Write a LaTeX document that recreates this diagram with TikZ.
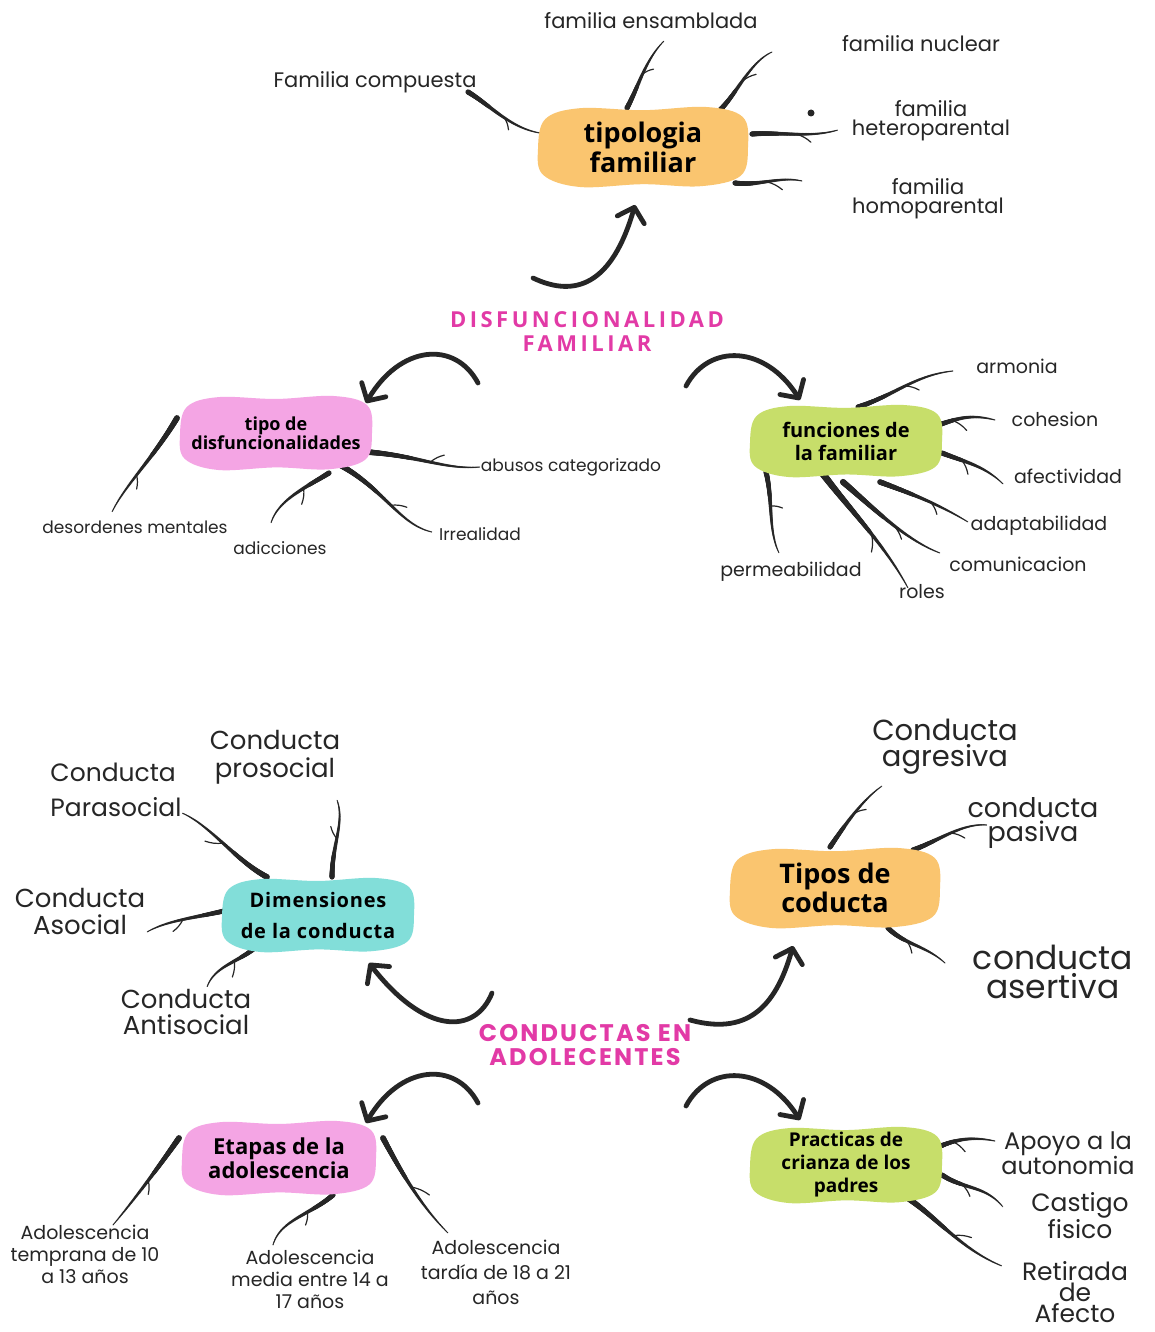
\documentclass[tikz,border=0pt]{standalone}
\usepackage{fontspec}
\setmainfont{Poppins}
\newfontfamily\osans{Open Sans}
\newfontfamily\osanssp{Open Sans}[LetterSpace=4]
\newfontfamily\titleA{Open Sans}[LetterSpace=16]
\newfontfamily\titleB{Poppins}[LetterSpace=9]
\usetikzlibrary{arrows.meta,decorations.markings,calc}
\definecolor{ink}{HTML}{262626}
\definecolor{tpink}{HTML}{E23AA6}
\definecolor{borange}{HTML}{FAC56F}
\definecolor{bpink}{HTML}{F4A5E4}
\definecolor{bgreen}{HTML}{C7DE6A}
\definecolor{bcyan}{HTML}{82DED9}
\newcommand\fs[2]{\fontsize{#1}{#2}\selectfont}
\pgfdeclarelayer{paper}
\pgfdeclarelayer{lines}
\pgfdeclarelayer{blobs}
\pgfsetlayers{paper,lines,blobs,main}
\tikzset{
  lab/.style={align=center, inner sep=0pt, text=ink},
  btext/.style={align=center, inner sep=0pt, text=black},
  twig/.style={draw=ink, line width=1.2pt, line cap=round},
  bigarr/.style={draw=ink, line width=4.8pt, line cap=round,
    -{Straight Barb[length=13pt,width=28pt,round]}},
  taper/.style={postaction={decorate,decoration={markings,
    mark=between positions 0 and 1 step 0.6pt with {%
      \pgfmathsetmacro\tpr{0.6+(#1-0.6)*(1-\pgfkeysvalueof{/pgf/decoration/mark info/distance from start}/\pgfdecoratedpathlength)}%
      \fill[ink] (0,0) circle[radius=\tpr pt];}}}},
}
% blob: node, half width, half height, colour
\newcommand\blobfill[4]{%
  \begin{pgfonlayer}{blobs}
  \begin{scope}[shift={(#1)}]
  \fill[#4] plot[smooth cycle, tension=0.6] coordinates {
    ({-#2},{0.05*#3}) ({-0.93*#2},{-0.7*#3}) ({-0.6*#2},{-0.97*#3})
    ({0},{-0.92*#3}) ({0.6*#2},{-1.0*#3}) ({0.95*#2},{-0.75*#3})
    ({#2},{0}) ({0.93*#2},{0.72*#3}) ({0.55*#2},{0.98*#3})
    ({0},{0.93*#3}) ({-0.6*#2},{1.0*#3}) ({-0.95*#2},{0.7*#3})};
  \end{scope}
  \end{pgfonlayer}}
% branch: name, width, start, c1, c2, end, twig pos, twig vector
\newcommand\branch[8]{%
  \begin{pgfonlayer}{lines}
  \path[taper=#2] #3 .. controls +#4 and +#5 .. #6 coordinate[pos=#7] (#1);
  \draw[twig] (#1) to[bend left=12] ++#8;
  \end{pgfonlayer}}
\begin{document}
\begin{tikzpicture}[x=1pt,y=-1pt]
\useasboundingbox (0,0) rectangle (1155,1332);
\begin{pgfonlayer}{paper}
\fill[white] (0,0) rectangle (1155,1332);
\end{pgfonlayer}

% ---------- titles and blobs
\node[text=tpink, align=center, font=\titleA\bfseries\fs{22}{24}] (t1) at (587,332) {DISFUNCIONALIDAD\\FAMILIAR};
\node[text=tpink, align=center, font=\titleB\bfseries\fs{24}{24}] (t2) at (585,1045) {CONDUCTAS EN\\ADOLECENTES};

\node[btext, font=\osans\bfseries\fs{27}{30}] (tip) at (643,147) {tipologia\\familiar};
\blobfill{tip}{105}{40}{borange}
\node[btext, font=\osans\bfseries\fs{18}{19}] (tdis) at (276,433) {tipo de\\disfuncionalidades};
\blobfill{tdis}{96}{37}{bpink}
\node[btext, font=\osans\bfseries\fs{20}{23}] (func) at (846,441) {funciones de\\la familiar};
\blobfill{func}{96}{36}{bgreen}
\node[btext, font=\osanssp\bfseries\fs{20}{31}] (dim) at (318,915) {Dimensiones\\de la conducta};
\blobfill{dim}{96}{37}{bcyan}
\node[btext, font=\osans\bfseries\fs{27}{29}] (tipc) at (835,888) {Tipos de\\coducta};
\blobfill{tipc}{105}{40}{borange}
\node[btext, font=\osans\bfseries\fs{22}{24}] (etap) at (279,1158) {Etapas de la\\adolescencia};
\blobfill{etap}{97}{37}{bpink}
\node[btext, font=\osans\bfseries\fs{19}{23}] (prac) at (846,1165) {Practicas de\\crianza de los\\padres};
\blobfill{prac}{96}{38}{bgreen}

% ---------- labels
\node[lab, font=\fs{21}{18}] (ens) at (651,21) {familia ensamblada};
\node[lab, font=\fs{21}{18}] (nuc) at (921,44) {familia nuclear};
\node[lab, font=\fs{21}{18}] (comp) at (375,82) {Familia compuesta};
\node[lab, font=\fs{21}{19}] (het) at (931,121) {familia\\heteroparental};
\node[lab, font=\fs{21}{19}] (hom) at (928,199) {familia\\homoparental};
\node[circle, fill=ink, inner sep=0pt, minimum size=7pt] (dot) at (811,113) {};

\node[lab, font=\fs{17}{18}] (des) at (135,527) {desordenes mentales};
\node[lab, font=\fs{17}{18}] (abu) at (571,467) {abusos categorizado};
\node[lab, font=\fs{17}{18}] (adi) at (280,548) {adicciones};
\node[lab, font=\fs{17}{18}] (irr) at (480,534) {Irrealidad};

\node[lab, font=\fs{19}{20}] (arm) at (1017,366) {armonia};
\node[lab, font=\fs{19}{20}] (coh) at (1055,419) {cohesion};
\node[lab, font=\fs{19}{20}] (afe) at (1068,476) {afectividad};
\node[lab, font=\fs{19}{20}] (ada) at (1039,526) {adaptabilidad};
\node[lab, font=\fs{19}{20}] (com) at (1018,564) {comunicacion};
\node[lab, font=\fs{19}{20}] (rol) at (922,592) {roles};
\node[lab, font=\fs{19}{20}] (per) at (791,572) {permeabilidad};

\node[lab, font=\fs{26}{28}] (pros) at (275,757) {Conducta\\prosocial};
\node[lab, font=\fs{25}{35}, align=left] (para) at (116,790) {Conducta\\Parasocial};
\node[lab, font=\fs{26}{27}] (asoc) at (80,911) {Conducta\\Asocial};
\node[lab, font=\fs{26}{26}] (anti) at (186,1012) {Conducta\\Antisocial};

\node[lab, font=\fs{29}{26}] (agr) at (945,747) {Conducta\\agresiva};
\node[lab, font=\fs{27}{24}] (pas) at (1033,823) {conducta\\pasiva};
\node[lab, font=\fs{33}{29}] (ase) at (1053,972) {conducta\\asertiva};

\node[lab, font=\fs{19}{22}] (temp) at (85,1254) {Adolescencia\\temprana de 10\\a 13 años};
\node[lab, font=\fs{19}{22}] (med) at (310,1279) {Adolescencia\\media entre 14 a\\17 años};
\node[lab, font=\fs{19}{25}] (tard) at (496,1272) {Adolescencia\\tardía de 18 a 21\\años};

\node[lab, font=\fs{24}{20}] (apo) at (1068,1153) {Apoyo a la\\autonomia};
\node[lab, font=\fs{25}{20}] (cas) at (1080,1216) {Castigo\\fisico};
\node[lab, font=\fs{25}{21}] (ret) at (1075,1292) {Retirada\\de\\Afecto};

% ---------- branches
\branch{b1}{2.6}{($(comp)+(93,10)$)}{(22,13)}{(-30,-5)}{($(tip)+(-103,-14)$)}{0.55}{(4,12)}
\branch{b2}{2.6}{($(tip)+(-16,-39)$)}{(11,-20)}{(-19,19)}{($(ens)+(13,20)$)}{0.5}{(11,-5)}
\branch{b3}{2.6}{($(tip)+(77,-37)$)}{(18,-18)}{(-22,10)}{($(nuc)+(-149,8)$)}{0.45}{(14,-7)}
\branch{b4}{2.6}{($(tip)+(109,-13)$)}{(33,-2)}{(-28,8)}{($(het)+(-93,9)$)}{0.5}{(14,8)}
\branch{b5}{2.6}{($(tip)+(92,36)$)}{(25,3)}{(-22,-5)}{($(hom)+(-126,-18)$)}{0.45}{(16,8)}

\branch{b6}{2.9}{($(tdis)+(-99,-15)$)}{(-25,42)}{(13,-27)}{($(des)+(-23,-15)$)}{0.55}{(0,14)}
\branch{b7}{2.9}{($(tdis)+(91,19)$)}{(53,4)}{(-35,3)}{($(abu)+(-91,0)$)}{0.5}{(14,-7)}
\branch{b8}{2.6}{($(tdis)+(53,40)$)}{(-24,15)}{(7,-23)}{($(adi)+(-9,-25)$)}{0.35}{(-2,16)}
\branch{b9}{2.9}{($(tdis)+(64,32)$)}{(45,25)}{(-32,-7)}{($(irr)+(-48,-2)$)}{0.5}{(16,2)}

\branch{b10}{2.6}{($(func)+(12,-34)$)}{(37,-12)}{(-38,4)}{($(arm)+(-64,5)$)}{0.5}{(14,4)}
\branch{b11}{2.6}{($(func)+(92,-16)$)}{(17,-5)}{(-27,-7)}{($(coh)+(-60,1)$)}{0.3}{(14,10)}
\branch{b12}{2.6}{($(func)+(96,12)$)}{(23,9)}{(-18,-18)}{($(afe)+(-65,8)$)}{0.3}{(6,14)}
\branch{b13}{2.8}{($(func)+(34,41)$)}{(35,13)}{(-28,-17)}{($(ada)+(-71,-4)$)}{0.55}{(6,12)}
\branch{b14}{3.1}{($(func)+(-3,41)$)}{(27,23)}{(-35,-13)}{($(com)+(-78,-11)$)}{0.55}{(8,14)}
\branch{b15}{3.5}{($(func)+(-23,33)$)}{(27,36)}{(-23,-43)}{($(rol)+(-14,-4)$)}{0.55}{(0,18)}
\branch{b16}{2.6}{($(func)+(-80,31)$)}{(7,28)}{(-11,-23)}{($(per)+(-12,-19)$)}{0.4}{(12,2)}

\branch{b17}{2.9}{($(dim)+(-51,-38)$)}{(-32,-17)}{(28,12)}{($(para)+(66,23)$)}{0.5}{(-18,-2)}
\branch{b18}{2.6}{($(dim)+(14,-38)$)}{(0,-32)}{(8,22)}{($(pros)+(62,43)$)}{0.45}{(-6,-12)}
\branch{b19}{2.6}{($(dim)+(-90,-5)$)}{(-33,8)}{(21,-12)}{($(asoc)+(67,21)$)}{0.5}{(-10,12)}
\branch{b20}{2.6}{($(dim)+(-61,31)$)}{(-17,16)}{(8,-22)}{($(anti)+(21,-25)$)}{0.4}{(-2,16)}

\branch{b21}{2.6}{($(tipc)+(-5,-41)$)}{(15,-22)}{(-20,14)}{($(agr)+(-63,39)$)}{0.5}{(12,-4)}
\branch{b22}{2.6}{($(tipc)+(78,-38)$)}{(27,-10)}{(-25,-2)}{($(pas)+(-46,2)$)}{0.5}{(14,5)}
\branch{b23}{2.6}{($(tipc)+(53,40)$)}{(17,17)}{(-20,-18)}{($(ase)+(-108,-9)$)}{0.35}{(5,12)}

\branch{b24}{2.9}{($(etap)+(-100,-20)$)}{(-19,27)}{(25,-30)}{($(temp)+(28,-29)$)}{0.5}{(0,14)}
\branch{b25}{2.6}{($(etap)+(54,37)$)}{(-23,20)}{(7,-25)}{($(med)+(-37,-34)$)}{0.35}{(-2,13)}
\branch{b26}{2.9}{($(etap)+(104,-20)$)}{(17,32)}{(-28,-28)}{($(tard)+(-48,-39)$)}{0.5}{(18,8)}

\branch{b27}{2.6}{($(prac)+(92,-18)$)}{(17,-7)}{(-25,-5)}{($(apo)+(-73,-12)$)}{0.3}{(12,10)}
\branch{b28}{2.6}{($(prac)+(96,10)$)}{(23,15)}{(-18,-22)}{($(cas)+(-77,-9)$)}{0.3}{(8,12)}
\branch{b29}{3.1}{($(prac)+(57,30)$)}{(32,20)}{(-42,-17)}{($(ret)+(-73,-26)$)}{0.55}{(18,2)}

% ---------- big arrows
\coordinate (a1) at ($(t1)+(-54,-54)$);
\coordinate (a2) at ($(t1)+(-109,51)$);
\coordinate (a3) at ($(t1)+(99,54)$);
\coordinate (a4) at ($(t2)+(-93,-52)$);
\coordinate (a5) at ($(t2)+(105,-25)$);
\coordinate (a6) at ($(t2)+(-107,58)$);
\coordinate (a7) at ($(t2)+(101,61)$);
\begin{pgfonlayer}{lines}
\draw[bigarr] (a1) .. controls +(42,20) and +(-23,80) .. ($(tip)+(-8,58)$);
\draw[bigarr] (a2) .. controls +(-23,-43) and +(34,-58) .. ($(tdis)+(90,-30)$);
\draw[bigarr] (a3) .. controls +(23,-43) and +(-35,-55) .. ($(func)+(-46,-41)$);
\draw[bigarr] (a4) .. controls +(-17,42) and +(56,72) .. ($(dim)+(51,48)$);
\draw[bigarr] (a5) .. controls +(55,15) and +(-18,64) .. ($(tipc)+(-42,58)$);
\draw[bigarr] (a6) .. controls +(-23,-43) and +(34,-58) .. ($(etap)+(87,-35)$);
\draw[bigarr] (a7) .. controls +(23,-43) and +(-35,-55) .. ($(prac)+(-46,-45)$);
\end{pgfonlayer}
\end{tikzpicture}
\end{document}
